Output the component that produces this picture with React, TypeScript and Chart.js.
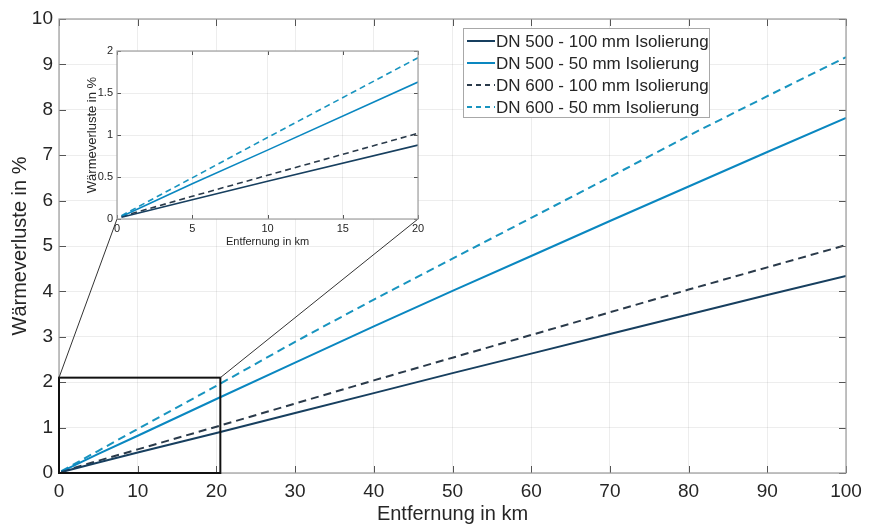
import React, { useEffect, useRef } from 'react';
import { Chart, registerables } from 'chart.js';

Chart.register(...registerables);

// ---- data ----
const distanceKm = [0.3, 5, 10, 20, 30, 40, 50, 60, 70, 80, 90, 100];
const dn500_100 = [0.02, 0.23, 0.45, 0.88, 1.32, 1.76, 2.2, 2.63, 3.06, 3.49, 3.92, 4.34];
const dn500_50 = [0.03, 0.42, 0.82, 1.63, 2.43, 3.23, 4.01, 4.78, 5.55, 6.31, 7.07, 7.82];
const dn600_100 = [0.03, 0.27, 0.52, 1.02, 1.53, 2.04, 2.54, 3.04, 3.54, 4.04, 4.53, 5.02];
const dn600_50 = [0.04, 0.49, 0.97, 1.92, 2.89, 3.82, 4.72, 5.62, 6.52, 7.43, 8.3, 9.16];
const seriesLabels = [
  'DN 500 - 100 mm Isolierung',
  'DN 500 - 50 mm Isolierung',
  'DN 600 - 100 mm Isolierung',
  'DN 600 - 50 mm Isolierung',
];
const seriesValues = [dn500_100, dn500_50, dn600_100, dn600_50];
const zoomRangeX = [0, 20.5];
const zoomRangeY = [0, 2.1];
const xTitle = 'Entfernung in km';
const yTitle = 'Wärmeverluste in %';

// ---- styles ----
const FONT = '"Liberation Sans", Arial, Helvetica, sans-serif';
const TEXT = '#262626';
const seriesColors = ['#173f5f', '#0a87c0', '#2a3a4a', '#1894bf'];
const seriesDashed = [false, false, true, true];

const W = 879;
const H = 526;
const INSET = { left: 80, top: 40, width: 350, height: 215 };

function buildDatasets(lineWidth: number, dash: number[]) {
  return seriesLabels.map((label, i) => ({
    label,
    data: distanceKm.map((x, j) => ({ x, y: seriesValues[i][j] })),
    borderColor: seriesColors[i],
    backgroundColor: seriesColors[i],
    borderWidth: lineWidth,
    borderDash: seriesDashed[i] ? dash : [],
    pointRadius: 0,
    tension: 0,
    fill: false,
  }));
}

function frameAndTicks(id: string, len: number, boxColor: string, bg: boolean) {
  return {
    id,
    beforeDraw(chart: any) {
      if (!bg) return;
      const { ctx, chartArea: a } = chart;
      ctx.save();
      ctx.fillStyle = '#ffffff';
      ctx.fillRect(a.left, a.top, a.right - a.left, a.bottom - a.top);
      ctx.restore();
    },
    afterDatasetsDraw(chart: any) {
      const { ctx, chartArea: a, scales } = chart;
      ctx.save();
      ctx.strokeStyle = '#555555';
      ctx.lineWidth = 1;
      ctx.beginPath();
      scales.x.ticks.forEach((t: any) => {
        const px = Math.round(scales.x.getPixelForValue(t.value)) + 0.5;
        ctx.moveTo(px, a.bottom);
        ctx.lineTo(px, a.bottom - len);
        ctx.moveTo(px, a.top);
        ctx.lineTo(px, a.top + len);
      });
      scales.y.ticks.forEach((t: any) => {
        const py = Math.round(scales.y.getPixelForValue(t.value)) + 0.5;
        ctx.moveTo(a.left, py);
        ctx.lineTo(a.left + len, py);
        ctx.moveTo(a.right, py);
        ctx.lineTo(a.right - len, py);
      });
      ctx.stroke();
      ctx.strokeStyle = boxColor;
      ctx.lineWidth = 1.2;
      ctx.strokeRect(a.left, a.top, a.right - a.left, a.bottom - a.top);
      ctx.restore();
    },
  };
}

const plainNumber = (v: any) => String(v);

export default function App() {
  const mainRef = useRef<HTMLCanvasElement>(null);
  const insetRef = useRef<HTMLCanvasElement>(null);

  useEffect(() => {
    if (!mainRef.current || !insetRef.current) return;

    const inset = new Chart(insetRef.current, {
      type: 'line',
      data: { datasets: buildDatasets(1.6, [6, 4]) as any },
      options: {
        animation: false,
        responsive: false,
        maintainAspectRatio: false,
        layout: { padding: { top: 11, right: 12, left: 0, bottom: 0 } },
        plugins: { legend: { display: false }, tooltip: { enabled: false } },
        scales: {
          x: {
            type: 'linear',
            min: 0,
            max: 20,
            ticks: { stepSize: 5, padding: 3, color: TEXT, font: { family: FONT, size: 11 }, callback: plainNumber },
            grid: { color: 'rgba(0,0,0,0.07)', drawTicks: false },
            border: { display: false },
            title: { display: true, text: xTitle, color: TEXT, font: { family: FONT, size: 11 }, padding: { top: 0, bottom: 6 } },
            afterFit: (s: any) => { s.height = 36; },
          },
          y: {
            type: 'linear',
            min: 0,
            max: 2,
            ticks: { stepSize: 0.5, padding: 4, color: TEXT, font: { family: FONT, size: 11 }, callback: plainNumber },
            grid: { color: 'rgba(0,0,0,0.07)', drawTicks: false },
            border: { display: false },
            title: { display: true, text: yTitle, color: TEXT, font: { family: FONT, size: 13 }, padding: { top: 5, bottom: 0 } },
            afterFit: (s: any) => { s.width = 37; },
          },
        },
      },
      plugins: [frameAndTicks('insetFrame', 4, '#a0a0a0', true)],
    });

    const zoomLinks = {
      id: 'zoomLinks',
      afterDatasetsDraw(chart: any) {
        const { ctx, scales } = chart;
        const x0 = scales.x.getPixelForValue(zoomRangeX[0]);
        const x1 = scales.x.getPixelForValue(zoomRangeX[1]);
        const y0 = scales.y.getPixelForValue(zoomRangeY[0]);
        const y1 = scales.y.getPixelForValue(zoomRangeY[1]);
        const ia = inset.chartArea;
        ctx.save();
        ctx.strokeStyle = '#111111';
        ctx.lineWidth = 2;
        ctx.strokeRect(x0, y1, x1 - x0, y0 - y1);
        ctx.lineWidth = 1;
        ctx.strokeStyle = '#333333';
        ctx.beginPath();
        ctx.moveTo(x0, y1);
        ctx.lineTo(INSET.left + ia.left, INSET.top + ia.bottom);
        ctx.moveTo(x1, y1);
        ctx.lineTo(INSET.left + ia.right, INSET.top + ia.bottom);
        ctx.stroke();
        ctx.restore();
      },
    };

    const boxLegend = {
      id: 'boxLegend',
      afterDraw(chart: any) {
        const { ctx } = chart;
        const left = 463, top = 28, right = 709, bottom = 117;
        ctx.save();
        ctx.fillStyle = '#ffffff';
        ctx.fillRect(left, top, right - left, bottom - top);
        ctx.strokeStyle = '#a8a8a8';
        ctx.lineWidth = 1;
        ctx.strokeRect(left + 0.5, top + 0.5, right - left, bottom - top);
        ctx.font = `17px ${FONT}`;
        ctx.textBaseline = 'middle';
        ctx.textAlign = 'left';
        chart.data.datasets.forEach((ds: any, i: number) => {
          const y = 41 + i * 22;
          ctx.strokeStyle = ds.borderColor;
          ctx.lineWidth = 2;
          ctx.setLineDash(seriesDashed[i] ? [5, 4] : []);
          ctx.beginPath();
          ctx.moveTo(467, y);
          ctx.lineTo(495, y);
          ctx.stroke();
          ctx.setLineDash([]);
          ctx.fillStyle = TEXT;
          ctx.fillText(ds.label, 496, y + 1);
        });
        ctx.restore();
      },
    };

    const main = new Chart(mainRef.current, {
      type: 'line',
      data: { datasets: buildDatasets(2, [8, 5]) as any },
      options: {
        animation: false,
        responsive: false,
        maintainAspectRatio: false,
        layout: { padding: { top: 19, right: 33, left: 0, bottom: 0 } },
        plugins: { legend: { display: false }, tooltip: { enabled: false } },
        scales: {
          x: {
            type: 'linear',
            min: 0,
            max: 100,
            ticks: { stepSize: 10, padding: 7, color: TEXT, font: { family: FONT, size: 19 }, callback: plainNumber },
            grid: { color: 'rgba(0,0,0,0.07)', drawTicks: false },
            border: { display: false },
            title: { display: true, text: xTitle, color: TEXT, font: { family: FONT, size: 20 }, padding: { top: 0, bottom: 0 } },
            afterFit: (s: any) => { s.height = 53; },
          },
          y: {
            type: 'linear',
            min: 0,
            max: 10,
            ticks: { stepSize: 1, padding: 6, color: TEXT, font: { family: FONT, size: 19 }, callback: plainNumber },
            grid: { color: 'rgba(0,0,0,0.07)', drawTicks: false },
            border: { display: false },
            title: { display: true, text: yTitle, color: TEXT, font: { family: FONT, size: 20 }, padding: { top: 8, bottom: 0 } },
            afterFit: (s: any) => { s.width = 59; },
          },
        },
      },
      plugins: [frameAndTicks('mainFrame', 7, '#9a9a9a', false), zoomLinks, boxLegend],
    });

    return () => {
      main.destroy();
      inset.destroy();
    };
  }, []);

  return (
    <div style={{ position: 'fixed', left: 0, top: 0, width: W, height: H, background: '#ffffff' }}>
      <canvas ref={mainRef} width={W} height={H} style={{ position: 'absolute', left: 0, top: 0, width: W, height: H }} />
      <canvas
        ref={insetRef}
        width={INSET.width}
        height={INSET.height}
        style={{ position: 'absolute', left: INSET.left, top: INSET.top, width: INSET.width, height: INSET.height }}
      />
    </div>
  );
}
